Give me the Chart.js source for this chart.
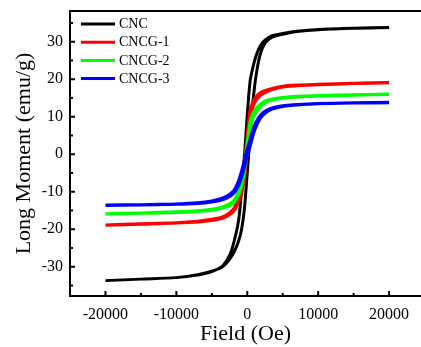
<!DOCTYPE html>
<html>
<head>
<meta charset="utf-8">
<script src="https://cdn.jsdelivr.net/npm/chart.js@4"></script>
<style>
  html, body { margin: 0; padding: 0; background: #fff; overflow: hidden; }
</style>
</head>
<body>
<canvas id="mh" width="421" height="347"></canvas>
<script>
// field sweep, high to low (Oe)
const fieldDown = [20000, 15000, 10000, 7000, 5000, 3500, 2500, 1800, 1200, 800, 400, 0,
  -400, -800, -1200, -1800, -2500, -3500, -5000, -7000, -10000, -15000, -20000];

// moment (emu/g) on the descending branch and on the ascending branch, same field points
const cncDown = [33.8, 33.6, 33.3, 32.8, 32.2, 31.6, 30.4, 28.8, 26.0, 23.2, 19.5, 10.5,
  -0.5, -9.5, -17.3, -22.8, -27.0, -29.8, -31.3, -32.2, -32.9, -33.3, -33.7];
const cncUp = [33.8, 33.6, 33.2, 32.7, 32.0, 31.2, 29.6, 26.5, 20.5, 14.0, 5.0, -5.0,
  -14.5, -20.0, -23.0, -25.8, -28.0, -30.0, -31.2, -32.1, -32.9, -33.3, -33.7];

const cncg1Down = [19.1, 18.9, 18.6, 18.4, 18.1, 17.5, 16.9, 16.3, 15.2, 13.9, 11.5, 4.5,
  -3.8, -8.8, -11.6, -14.3, -15.7, -16.8, -17.4, -17.9, -18.3, -18.6, -18.9];
const cncg1Up = [19.1, 18.9, 18.6, 18.3, 18.0, 17.3, 16.5, 15.7, 14.4, 12.7, 9.5, 1.5,
  -6.2, -10.2, -12.4, -14.8, -16.1, -17.0, -17.6, -18.0, -18.3, -18.6, -18.9];

const cncg2Down = [16.0, 15.8, 15.6, 15.4, 15.1, 14.7, 14.1, 13.2, 12.0, 10.8, 8.3, 2.8,
  -2.8, -7.2, -9.8, -12.2, -13.3, -14.1, -14.7, -15.1, -15.4, -15.7, -15.9];
const cncg2Up = [16.0, 15.8, 15.6, 15.3, 15.0, 14.5, 13.8, 12.6, 11.2, 9.7, 6.8, 1.2,
  -4.2, -8.3, -10.6, -12.7, -13.7, -14.3, -14.9, -15.2, -15.5, -15.7, -15.9];

const cncg3Down = [13.8, 13.7, 13.5, 13.2, 12.9, 12.3, 11.4, 10.2, 8.3, 6.4, 3.8, 1.2,
  -1.8, -4.7, -7.1, -9.5, -10.8, -11.8, -12.5, -13.0, -13.3, -13.5, -13.6];
const cncg3Up = [13.8, 13.7, 13.5, 13.2, 12.8, 12.1, 11.0, 9.6, 7.3, 5.2, 2.3, -0.2,
  -3.2, -5.9, -8.1, -10.1, -11.2, -12.1, -12.7, -13.1, -13.3, -13.5, -13.6];

const seriesNames = ['CNC', 'CNCG-1', 'CNCG-2', 'CNCG-3'];
const seriesColors = ['#000000', '#ff0000', '#00ff00', '#0000ff'];

const xTicks = [-20000, -10000, 0, 10000, 20000];
const xMinor = [-15000, -5000, 5000, 15000];
const yTicks = [-30, -20, -10, 0, 10, 20, 30];
const yMinor = [-35, -25, -15, -5, 5, 15, 25, 35];

const FONT = '"Liberation Serif", "Times New Roman", serif';

// full loop: down the descending branch, then back up the ascending one
function loop(down, up) {
  const pts = fieldDown.map((h, i) => ({x: h, y: down[i]}));
  for (let i = fieldDown.length - 1; i >= 0; i--) {
    pts.push({x: fieldDown[i], y: up[i]});
  }
  return pts;
}

const loops = [[cncDown, cncUp], [cncg1Down, cncg1Up], [cncg2Down, cncg2Up], [cncg3Down, cncg3Up]];

const datasets = loops.map((b, i) => ({
  label: seriesNames[i],
  data: loop(b[0], b[1]),
  borderColor: seriesColors[i],
  backgroundColor: seriesColors[i],
  borderWidth: i === 0 ? 3 : 3.5,
  pointRadius: 0,
  tension: 0.3,
  fill: false,
  order: 4 - i
}));

// axes frame, inward ticks and the legend inside the plot
const framePlugin = {
  id: 'frame',
  afterDraw(chart) {
    const {ctx, chartArea: a, scales: {x, y}} = chart;
    ctx.save();
    ctx.strokeStyle = '#000';
    ctx.lineWidth = 2;
    ctx.beginPath();
    ctx.moveTo(a.right + 5, a.top);
    ctx.lineTo(a.left, a.top);
    ctx.lineTo(a.left, a.bottom);
    ctx.lineTo(a.right + 5, a.bottom);
    ctx.stroke();

    ctx.beginPath();
    xTicks.forEach(v => { const p = x.getPixelForValue(v); ctx.moveTo(p, a.bottom); ctx.lineTo(p, a.bottom - 5); });
    xMinor.forEach(v => { const p = x.getPixelForValue(v); ctx.moveTo(p, a.bottom); ctx.lineTo(p, a.bottom - 3); });
    yTicks.forEach(v => { const p = y.getPixelForValue(v); ctx.moveTo(a.left, p); ctx.lineTo(a.left + 5, p); });
    yMinor.forEach(v => { const p = y.getPixelForValue(v); ctx.moveTo(a.left, p); ctx.lineTo(a.left + 3, p); });
    ctx.stroke();

    // legend
    ctx.font = '14px ' + FONT;
    ctx.textBaseline = 'middle';
    ctx.textAlign = 'left';
    chart.data.datasets.forEach((ds, i) => {
      const ly = a.top + 13 + i * 18.2;
      ctx.strokeStyle = ds.borderColor;
      ctx.lineWidth = 3;
      ctx.beginPath();
      ctx.moveTo(a.left + 11, ly);
      ctx.lineTo(a.left + 45, ly);
      ctx.stroke();
      ctx.fillStyle = '#000';
      ctx.fillText(ds.label, a.left + 49, ly + 0.5);
    });
    ctx.restore();
  }
};

new Chart(document.getElementById('mh'), {
  type: 'line',
  data: {datasets: datasets},
  options: {
    responsive: false,
    animation: false,
    layout: {padding: {top: 11, right: 0, left: 0, bottom: 0}},
    plugins: {
      legend: {display: false},
      tooltip: {enabled: false}
    },
    scales: {
      x: {
        type: 'linear',
        min: -25000,
        max: 24500,
        afterBuildTicks: s => { s.ticks = xTicks.map(v => ({value: v})); },
        afterFit: s => { s.height = 51; s.paddingLeft = 0; s.paddingRight = 0; },
        grid: {display: false, drawTicks: false},
        border: {display: false},
        ticks: {
          color: '#000',
          padding: 9,
          maxRotation: 0,
          font: {family: FONT, size: 16},
          callback: v => String(v)
        },
        title: {
          display: true,
          text: 'Field (Oe)',
          color: '#000',
          font: {family: FONT, size: 22},
          padding: {top: 2, bottom: 0}
        }
      },
      y: {
        min: -37.8,
        max: 38.2,
        afterBuildTicks: s => { s.ticks = yTicks.map(v => ({value: v})); },
        afterFit: s => { s.width = 70; s.paddingTop = 0; s.paddingBottom = 0; },
        grid: {display: false, drawTicks: false},
        border: {display: false},
        ticks: {
          color: '#000',
          padding: 7,
          font: {family: FONT, size: 16},
          callback: v => String(v)
        },
        title: {
          display: true,
          text: 'Long Moment (emu/g)',
          color: '#000',
          font: {family: FONT, size: 22},
          padding: {top: 11, bottom: 0}
        }
      }
    }
  },
  plugins: [framePlugin]
});
</script>
</body>
</html>
